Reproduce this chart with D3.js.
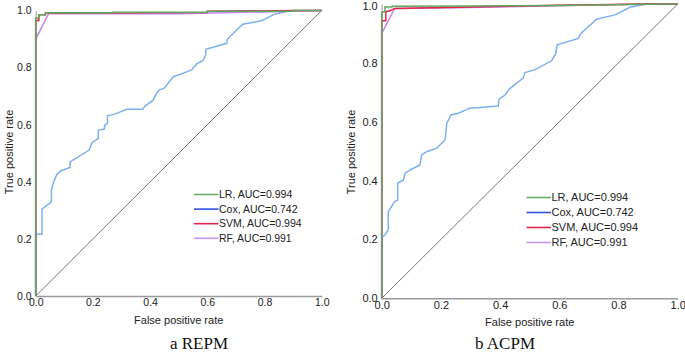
<!DOCTYPE html>
<html lang="en">
<head>
    <meta charset="UTF-8">
    <title>ROC curves REPM / ACPM</title>
    <script src="https://cdn.jsdelivr.net/npm/d3@7"></script>
    <style>
        body {
            margin: 0;
            background-color: #fff;
        }
        svg {
            display: block;
        }
        .tick text, .lbl {
            font-family: "Liberation Sans", Arial, sans-serif;
            fill: #222;
        }
    </style>
</head>
<body>
    <div id="chart"></div>

    <script>
        // values: [false positive rate, true positive rate]
        const seriesNames = ["LR", "Cox", "SVM", "RF"];
        const aucLabels = ["LR, AUC=0.994", "Cox, AUC=0.742", "SVM,  AUC=0.994", "RF, AUC=0.991"];
        const tickValues = [0, 0.2, 0.4, 0.6, 0.8, 1.0];
        const captions = ["a REPM", "b ACPM"];

        const repmLR = [[0,0],[0,0.974],[0.011,0.974],[0.011,0.985],[0.034,0.985],[0.034,0.992],[0.27,0.992],[0.27,0.994],[0.6,0.994],[0.6,0.997],[0.9,0.997],[0.9,1],[1,1]];
        const repmSVM = [[0,0],[0,0.965],[0.011,0.965],[0.011,0.985],[0.034,0.985],[0.034,0.991],[0.6,0.993],[0.6,0.997],[0.9,1],[1,1]];
        const repmRF = [[0,0],[0,0.9],[0.045,0.989],[0.5,0.989],[0.9,0.997],[1,1]];
        const repmCox = [[0,0],[0,0.216],[0.022,0.216],[0.022,0.304],[0.055,0.33],[0.055,0.374],[0.064,0.403],[0.073,0.424],
            [0.087,0.438],[0.12,0.45],[0.12,0.47],[0.187,0.511],[0.197,0.537],[0.219,0.552],[0.219,0.581],[0.239,0.584],
            [0.242,0.599],[0.251,0.605],[0.251,0.631],[0.277,0.637],[0.318,0.654],[0.374,0.654],[0.382,0.665],[0.411,0.686],
            [0.42,0.706],[0.432,0.722],[0.449,0.727],[0.481,0.768],[0.51,0.778],[0.545,0.792],[0.563,0.813],[0.584,0.824],
            [0.594,0.844],[0.595,0.864],[0.668,0.885],[0.67,0.899],[0.691,0.92],[0.724,0.952],[0.79,0.964],[0.837,0.988],
            [0.889,0.999],[1,1]];

        const acpmLR = [[0,0],[0,0.973],[0.011,0.973],[0.011,0.99],[0.035,0.99],[0.035,0.992],[0.3,0.993],[0.6,0.995],[0.9,0.999],[1,1]];
        const acpmSVM = [[0,0],[0,0.943],[0.014,0.943],[0.014,0.974],[0.03,0.978],[0.044,0.985],[0.3,0.99],[0.52,0.994],[0.59,0.996],[0.9,1],[1,1]];
        const acpmRF = [[0,0],[0,0.9],[0.044,0.985],[0.25,0.987],[0.9,1],[1,1]];
        const acpmCox = [[0,0],[0.002,0.209],[0.011,0.215],[0.022,0.232],[0.022,0.294],[0.043,0.328],[0.054,0.334],[0.054,0.391],
            [0.073,0.402],[0.079,0.425],[0.096,0.436],[0.129,0.453],[0.135,0.487],[0.152,0.498],[0.186,0.51],[0.214,0.538],
            [0.22,0.595],[0.234,0.623],[0.259,0.629],[0.298,0.646],[0.394,0.653],[0.396,0.676],[0.417,0.691],[0.43,0.71],
            [0.456,0.731],[0.478,0.748],[0.484,0.767],[0.516,0.776],[0.574,0.807],[0.588,0.832],[0.593,0.861],[0.664,0.883],
            [0.673,0.9],[0.726,0.948],[0.788,0.963],[0.839,0.989],[0.895,1],[1,1]];

        const curveColors = { LR: "#5fa85f", Cox: "#7fb0ee", SVM: "#e3234a", RF: "#c586ee" };
        const legendColors = { LR: "#6aae6a", Cox: "#3352e0", SVM: "#e3234a", RF: "#c79af2" };

        const svg = d3.select("#chart")
            .append("svg")
            .attr("width", 685)
            .attr("height", 352);

        drawPanel({
            curves: { LR: repmLR, Cox: repmCox, SVM: repmSVM, RF: repmRF },
            x0: 35.7, x1: 321.7, y0: 296, y1: 10.5,
            fontSize: 10.5, legendX: 194, legendY: 194.5, legendStep: 14.6,
            yTitleX: 9, caption: captions[0], captionX: 199
        });
        drawPanel({
            curves: { LR: acpmLR, Cox: acpmCox, SVM: acpmSVM, RF: acpmRF },
            x0: 381.7, x1: 677.7, y0: 298.3, y1: 4,
            fontSize: 11, legendX: 526.5, legendY: 197.5, legendStep: 15,
            yTitleX: 351, caption: captions[1], captionX: 505
        });

        function drawPanel(p) {
            const x = d3.scaleLinear().domain([0, 1]).range([p.x0, p.x1]);
            const y = d3.scaleLinear().domain([0, 1]).range([p.y0, p.y1]);
            const g = svg.append("g");

            // axes
            const xAxis = g.append("g")
                .attr("transform", `translate(0,${p.y0})`)
                .call(d3.axisBottom(x).tickValues(tickValues).tickFormat(d3.format(".1f")).tickSize(0).tickPadding(3));
            xAxis.select(".domain").attr("stroke", "#9a9a9a").attr("stroke-width", 1.4);
            xAxis.selectAll("text").style("font-size", p.fontSize + "px");

            const yAxis = g.append("g")
                .attr("transform", `translate(${p.x0},0)`)
                .call(d3.axisLeft(y).tickValues(tickValues).tickFormat(d3.format(".1f")).tickSize(0).tickPadding(4));
            yAxis.select(".domain").attr("stroke", "#9a9a9a").attr("stroke-width", 1);
            yAxis.selectAll("text")
                .style("font-size", p.fontSize + "px")
                .attr("dy", d => (d === 1 && p.y1 < 8) ? "0.5em" : "0.32em");

            // reference diagonal
            g.append("line")
                .attr("x1", x(0)).attr("y1", y(0))
                .attr("x2", x(1)).attr("y2", y(1))
                .attr("stroke", "#555")
                .attr("stroke-width", 0.8);

            const line = d3.line().x(d => x(d[0])).y(d => y(d[1]));
            ["Cox", "RF", "SVM", "LR"].forEach(name => {
                g.append("path")
                    .datum(p.curves[name])
                    .attr("d", line)
                    .attr("fill", "none")
                    .attr("stroke", curveColors[name])
                    .attr("stroke-width", 1.5);
            });

            // legend
            seriesNames.forEach((name, i) => {
                const ly = p.legendY + i * p.legendStep;
                g.append("line")
                    .attr("x1", p.legendX).attr("x2", p.legendX + 24.5)
                    .attr("y1", ly).attr("y2", ly)
                    .attr("stroke", legendColors[name])
                    .attr("stroke-width", 1.6);
                g.append("text")
                    .attr("class", "lbl")
                    .attr("x", p.legendX + 25)
                    .attr("y", ly)
                    .attr("dy", "0.35em")
                    .style("font-size", p.fontSize + "px")
                    .text(aucLabels[i]);
            });

            // axis titles
            g.append("text")
                .attr("class", "lbl")
                .attr("x", (p.x0 + p.x1) / 2)
                .attr("y", p.y0 + 28)
                .attr("text-anchor", "middle")
                .style("font-size", "11px")
                .text("False positive rate");
            g.append("text")
                .attr("class", "lbl")
                .attr("transform", `translate(${p.yTitleX},152) rotate(-90)`)
                .attr("text-anchor", "middle")
                .attr("dy", "0.35em")
                .style("font-size", "11px")
                .text("True positive rate");

            g.append("text")
                .attr("x", p.captionX)
                .attr("y", 348.5)
                .attr("text-anchor", "middle")
                .style("font-family", "'Liberation Serif', 'Times New Roman', serif")
                .style("font-size", "17px")
                .attr("fill", "#111")
                .text(p.caption);
        }
    </script>
</body>
</html>
